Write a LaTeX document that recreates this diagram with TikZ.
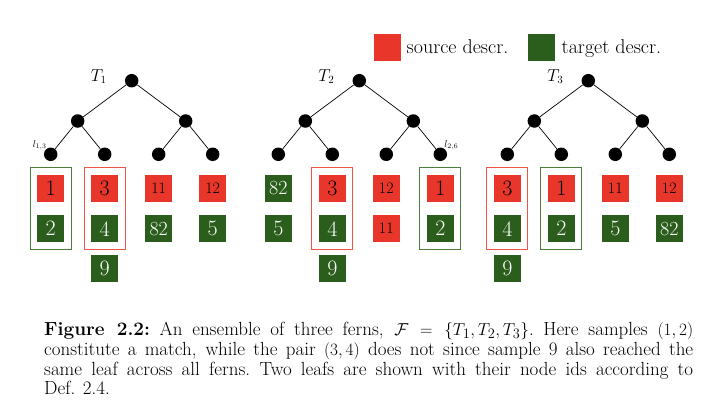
\documentclass[tikz,border=0pt]{standalone}
\usepackage{fontspec}
\definecolor{srcred}{HTML}{E8362A}
\definecolor{tgtgreen}{HTML}{2B5E1D}
\definecolor{olred}{HTML}{EE5546}
\definecolor{olgreen}{HTML}{4A7D3A}
\tikzset{
  dot/.style={circle, fill=black, inner sep=0pt, minimum size=13.5pt},
  edge/.style={draw=black, line width=0.7pt},
  box/.style={minimum width=27pt, minimum height=27pt, inner sep=0pt, font=\fontsize{22}{22}\selectfont},
  src/.style={box, fill=srcred, text=black},
  tgt/.style={box, fill=tgtgreen, text=white},
  two/.style={font=\fontsize{16}{16}\selectfont},
  wide/.style={font=\fontsize{20}{20}\selectfont},
  outline/.style={line width=1.1pt, minimum width=41pt, minimum height=81.7pt, inner sep=0pt},
  redline/.style={outline, draw=olred},
  greenline/.style={outline, draw=olgreen},
  tlabel/.style={font=\fontsize{16}{16}\selectfont, inner sep=0pt},
  leaflabel/.style={font=\fontsize{10}{10}\selectfont, inner sep=0pt},
  legendtext/.style={font=\fontsize{20}{20}\selectfont, inner sep=0pt, anchor=base west},
  capline/.style={font=\fontsize{19}{19.7}\selectfont, inner sep=0pt, anchor=base west},
}
\newcommand{\drawfern}[2]{%
  \node[dot] (t#1r) at (#2,80.7) {};
  \node[dot] (t#1a) at ({#2-54},121) {};
  \node[dot] (t#1b) at ({#2+54},121) {};
  \node[dot] (t#1l1) at ({#2-81},154.3) {};
  \node[dot] (t#1l2) at ({#2-27},154.3) {};
  \node[dot] (t#1l3) at ({#2+27},154.3) {};
  \node[dot] (t#1l4) at ({#2+81},154.3) {};
  \draw[edge] (t#1r) -- (t#1a);
  \draw[edge] (t#1r) -- (t#1b);
  \draw[edge] (t#1a) -- (t#1l1);
  \draw[edge] (t#1a) -- (t#1l2);
  \draw[edge] (t#1b) -- (t#1l3);
  \draw[edge] (t#1b) -- (t#1l4);
  \node[tlabel] (t#1lab) at ({#2-33},76.5) {$T_#1$};
}
\begin{document}
\begin{tikzpicture}[x=1pt,y=-1pt]
\fill[white] (0,0) rectangle (704,418);
\useasboundingbox (0,0) rectangle (704,418);
\coordinate (ra) at (0,188);
\coordinate (rb) at (0,228.7);
\coordinate (rc) at (0,268.7);
\coordinate (ro) at (0,208.2);

% legend
\node[src] (lsrc) at (387,47) {};
\node[legendtext] (lsrct) at (406.5,53.3) {source descr.};
\node[tgt] (ltgt) at (541.3,47) {};
\node[legendtext] (ltgtt) at (561.5,53.3) {target descr.};

% ferns
\drawfern{1}{131.7}
\drawfern{2}{359.3}
\drawfern{3}{588.3}

\node[leaflabel, anchor=south east] (l13) at ([xshift=1pt,yshift=-1pt]t1l1.north west) {$l_{1,3}$};
\node[leaflabel, anchor=south west] (l26) at ([xshift=-1pt,yshift=-1pt]t2l4.north east) {$l_{2,6}$};

% T1 leaves
\node[greenline] (o11) at (t1l1 |- ro) {};
\node[src] (b11a) at (t1l1 |- ra) {1};
\node[tgt] (b11b) at (t1l1 |- rb) {2};
\node[redline] (o12) at (t1l2 |- ro) {};
\node[src] (b12a) at (t1l2 |- ra) {3};
\node[tgt] (b12b) at (t1l2 |- rb) {4};
\node[tgt] (b12c) at (t1l2 |- rc) {9};
\node[src, two] (b13a) at (t1l3 |- ra) {11};
\node[tgt, wide] (b13b) at (t1l3 |- rb) {82};
\node[src, two] (b14a) at (t1l4 |- ra) {12};
\node[tgt] (b14b) at (t1l4 |- rb) {5};

% T2 leaves
\node[tgt, wide] (b21a) at (t2l1 |- ra) {82};
\node[tgt] (b21b) at (t2l1 |- rb) {5};
\node[redline] (o22) at (t2l2 |- ro) {};
\node[src] (b22a) at (t2l2 |- ra) {3};
\node[tgt] (b22b) at (t2l2 |- rb) {4};
\node[tgt] (b22c) at (t2l2 |- rc) {9};
\node[src, two] (b23a) at (t2l3 |- ra) {12};
\node[src, two] (b23b) at (t2l3 |- rb) {11};
\node[greenline] (o24) at (t2l4 |- ro) {};
\node[src] (b24a) at (t2l4 |- ra) {1};
\node[tgt] (b24b) at (t2l4 |- rb) {2};

% T3 leaves
\node[redline] (o31) at (t3l1 |- ro) {};
\node[src] (b31a) at (t3l1 |- ra) {3};
\node[tgt] (b31b) at (t3l1 |- rb) {4};
\node[tgt] (b31c) at (t3l1 |- rc) {9};
\node[greenline] (o32) at (t3l2 |- ro) {};
\node[src] (b32a) at (t3l2 |- ra) {1};
\node[tgt] (b32b) at (t3l2 |- rb) {2};
\node[src, two] (b33a) at (t3l3 |- ra) {11};
\node[tgt] (b33b) at (t3l3 |- rb) {5};
\node[src, two] (b34a) at (t3l4 |- ra) {12};
\node[tgt, wide] (b34b) at (t3l4 |- rb) {82};

% caption
\node[capline] (cap1) at (44,335) {\makebox[649pt][s]{\textbf{Figure 2.2:}\enskip An ensemble of three ferns, $\mathcal{F} = \{T_1, T_2, T_3\}$.\enskip Here samples $(1,2)$}};
\node[capline] (cap2) at (44,355) {\makebox[649pt][s]{constitute a match, while the pair $(3,4)$ does not since sample 9 also reached the}};
\node[capline] (cap3) at (44,375) {\makebox[649pt][s]{same leaf across all ferns.\enskip Two leafs are shown with their node ids according to}};
\node[capline] (cap4) at (44,394.5) {Def. 2.4.};
\end{tikzpicture}
\end{document}
